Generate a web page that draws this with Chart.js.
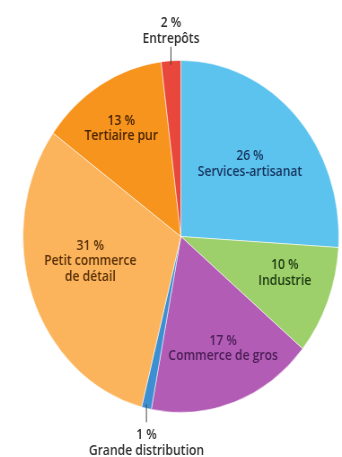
<!DOCTYPE html>
<html lang="fr">
<head>
<meta charset="utf-8">
<title>Répartition par secteur</title>
<script src="https://cdn.jsdelivr.net/npm/chart.js@4"></script>
<style>
  html, body { margin: 0; padding: 0; background: #fff; overflow: hidden; }
  #wrap { width: 381px; height: 457px; transform: scaleX(0.8976); transform-origin: 0 0; }
</style>
</head>
<body>
<div id="wrap"><canvas id="pie" width="381" height="457"></canvas></div>
<script>
// secteurs, dans le sens horaire depuis midi
const secteurs = [
    ["Services-artisanat"],
    ["Industrie"],
    ["Commerce de gros"],
    ["Grande distribution"],
    ["Petit commerce", "de détail"],
    ["Tertiaire pur"],
    ["Entrepôts"]
]
const parts = [26, 10, 17, 1, 31, 13, 2]

const couleurs = ["#5cc3ef", "#9dcf6b", "#b25cb5", "#3d8fd2", "#fbb45c", "#f7941e", "#e9473b"]
const couleursTexte = ["#17365e", "#1d3a10", "#4a1d55", "#2e2e2e", "#5a3008", "#4a2300", "#2e2e2e"]

// placement des étiquettes : fraction du rayon + petit décalage angulaire (degrés)
// "dehors" = étiquette hors du camembert avec un trait
const placement = [
    { r: 0.60, turn: 0 },
    { r: 0.69, turn: -4 },
    { r: 0.69, turn: -3 },
    { dehors: true },
    { r: 0.59, turn: 6 },
    { r: 0.72, turn: -1 },
    { dehors: true }
]

const etiquettes = {
    id: "etiquettes",
    afterDatasetsDraw(chart) {
        const ctx = chart.ctx
        const arcs = chart.getDatasetMeta(0).data
        const lh = 15.5
        ctx.save()
        ctx.textAlign = "center"
        ctx.textBaseline = "middle"
        ctx.font = "600 13.5px 'Open Sans', sans-serif"

        arcs.forEach((arc, i) => {
            const { x, y, startAngle, endAngle, outerRadius } = arc.getProps(["x", "y", "startAngle", "endAngle", "outerRadius"], true)
            const p = placement[i]
            const lignes = [parts[i] + " %"].concat(secteurs[i])
            ctx.fillStyle = couleursTexte[i]
            let mid = (startAngle + endAngle) / 2

            if (p.dehors) {
                const cx = x + Math.cos(mid) * outerRadius
                const haut = Math.sin(mid) < 0
                const dir = haut ? -1 : 1
                const yBord = y + Math.sin(mid) * outerRadius
                ctx.strokeStyle = "#444"
                ctx.lineWidth = 1
                ctx.beginPath()
                ctx.moveTo(cx, yBord - dir * 4)
                ctx.lineTo(cx, yBord + dir * 14)
                ctx.stroke()
                const y0 = haut ? yBord - 22 - lh : yBord + 27
                lignes.forEach((t, k) => ctx.fillText(t, cx, y0 + k * lh))
                return
            }

            mid += p.turn * Math.PI / 180
            const cx = x + Math.cos(mid) * outerRadius * p.r
            const cy = y + Math.sin(mid) * outerRadius * p.r
            const y0 = cy - (lignes.length - 1) * lh / 2
            lignes.forEach((t, k) => ctx.fillText(t, cx, y0 + k * lh))
        })
        ctx.restore()
    }
}

new Chart(document.getElementById("pie"), {
    type: "pie",
    data: {
        labels: secteurs,
        datasets: [{
            data: parts,
            backgroundColor: couleurs,
            borderColor: "rgba(255,255,255,0.55)",
            borderWidth: 1
        }]
    },
    options: {
        responsive: false,
        animation: false,
        layout: { padding: { top: 60, bottom: 44, left: 25, right: 3 } },
        plugins: {
            legend: { display: false },
            tooltip: { enabled: false }
        }
    },
    plugins: [etiquettes]
})
</script>
</body>
</html>
